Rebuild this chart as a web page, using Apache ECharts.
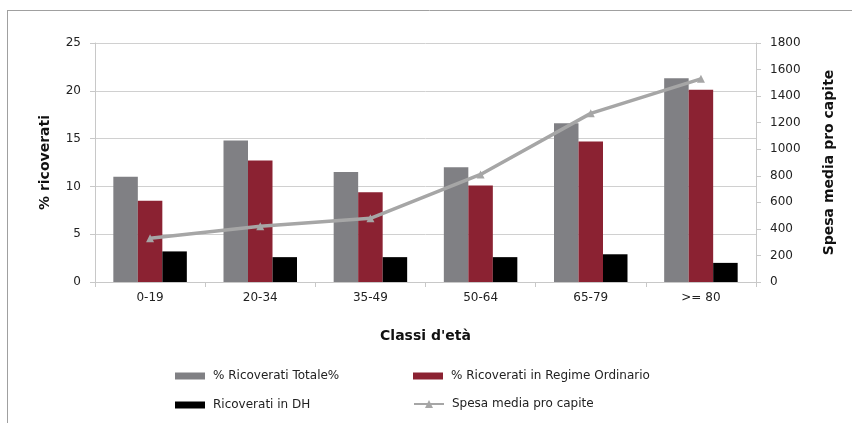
<!DOCTYPE html>
<html>
<head>
<meta charset="utf-8">
<script src="https://cdn.jsdelivr.net/npm/echarts@6/dist/echarts.min.js"></script>
<style>html,body{margin:0;padding:0;background:#fff}#c{width:852px;height:423px}</style>
</head>
<body>
<div id="c"></div>
<script>
var categories = ['0-19', '20-34', '35-49', '50-64', '65-79', '>= 80'];
var totale = [11.0, 14.8, 11.5, 12.0, 16.6, 21.3];
var ordinario = [8.5, 12.7, 9.4, 10.1, 14.7, 20.1];
var dh = [3.2, 2.6, 2.6, 2.6, 2.9, 2.0];
var spesa = [330, 420, 480, 810, 1270, 1530];
var names = ['% Ricoverati Totale%', '% Ricoverati in Regime Ordinario', 'Ricoverati in DH', 'Spesa media pro capite'];

var font = 'DejaVu Sans';
var chart = echarts.init(document.getElementById('c'), null, {renderer: 'canvas'});
function lg(name, left, top, icon) {
  return {
    data: [{name: name, icon: icon}], left: left, top: top,
    itemWidth: 30, itemHeight: icon === 'rect' ? 7 : 10, itemGap: 0, padding: 0,
    textStyle: {fontFamily: font, fontSize: 12, color: '#222', padding: [0, 0, 0, 3]},
    selectedMode: false
  };
}
chart.setOption({
  animation: false,
  textStyle: {fontFamily: font},
  grid: {left: 95, right: 96, top: 43, bottom: 141, containLabel: false},
  legend: [
    lg(names[0], 175, 370, 'rect'),
    lg(names[1], 413, 370, 'rect'),
    lg(names[2], 175, 399, 'rect'),
    lg(names[3], 413, 398, null)
  ],
  graphic: [
    {type: 'line', shape: {x1: 7, y1: 10.5, x2: 852, y2: 10.5}, style: {stroke: '#a0a0a0', lineWidth: 1}},
    {type: 'line', shape: {x1: 7.5, y1: 10, x2: 7.5, y2: 423}, style: {stroke: '#a0a0a0', lineWidth: 1}}
  ],
  xAxis: {
    type: 'category', data: categories,
    name: "Classi d'età", nameLocation: 'middle', nameGap: 47,
    nameTextStyle: {fontFamily: font, fontSize: 14, fontWeight: 'bold', color: '#111'},
    axisLine: {lineStyle: {color: '#c8c8c8'}},
    axisTick: {show: true, length: 5, lineStyle: {color: '#c8c8c8'}},
    axisLabel: {fontFamily: font, fontSize: 12, color: '#222', margin: 10}
  },
  yAxis: [
    {
      type: 'value', min: 0, max: 25, interval: 5,
      name: '% ricoverati', nameLocation: 'middle', nameGap: 43,
      nameTextStyle: {fontFamily: font, fontSize: 14, fontWeight: 'bold', color: '#111'},
      axisLine: {show: true, lineStyle: {color: '#c8c8c8'}},
      axisTick: {show: true, length: 5, lineStyle: {color: '#c8c8c8'}},
      axisLabel: {fontFamily: font, fontSize: 12, color: '#222', margin: 14},
      splitLine: {lineStyle: {color: '#d0d0d0'}}
    },
    {
      type: 'value', min: 0, max: 1800, interval: 200, position: 'right',
      name: 'Spesa media pro capite', nameLocation: 'middle', nameGap: 66,
      nameTextStyle: {fontFamily: font, fontSize: 14, fontWeight: 'bold', color: '#111'},
      axisLine: {show: true, lineStyle: {color: '#c8c8c8'}},
      axisTick: {show: true, length: 5, lineStyle: {color: '#c8c8c8'}},
      axisLabel: {fontFamily: font, fontSize: 12, color: '#222', margin: 14,
                  formatter: function (v) { return String(v); }},
      splitLine: {show: false}
    }
  ],
  series: [
    {name: names[0], type: 'bar', data: totale, barWidth: 24.5, barGap: '0%', itemStyle: {color: '#808084'}},
    {name: names[1], type: 'bar', data: ordinario, barWidth: 24.5, barGap: '0%', itemStyle: {color: '#8b2232'}},
    {name: names[2], type: 'bar', data: dh, barWidth: 24.5, barGap: '0%', itemStyle: {color: '#000000'}},
    {name: names[3], type: 'line', yAxisIndex: 1, data: spesa, symbol: 'triangle', symbolSize: 8,
     lineStyle: {color: '#a6a6a6', width: 3.5}, itemStyle: {color: '#a6a6a6'}}
  ]
});
</script>
</body>
</html>
